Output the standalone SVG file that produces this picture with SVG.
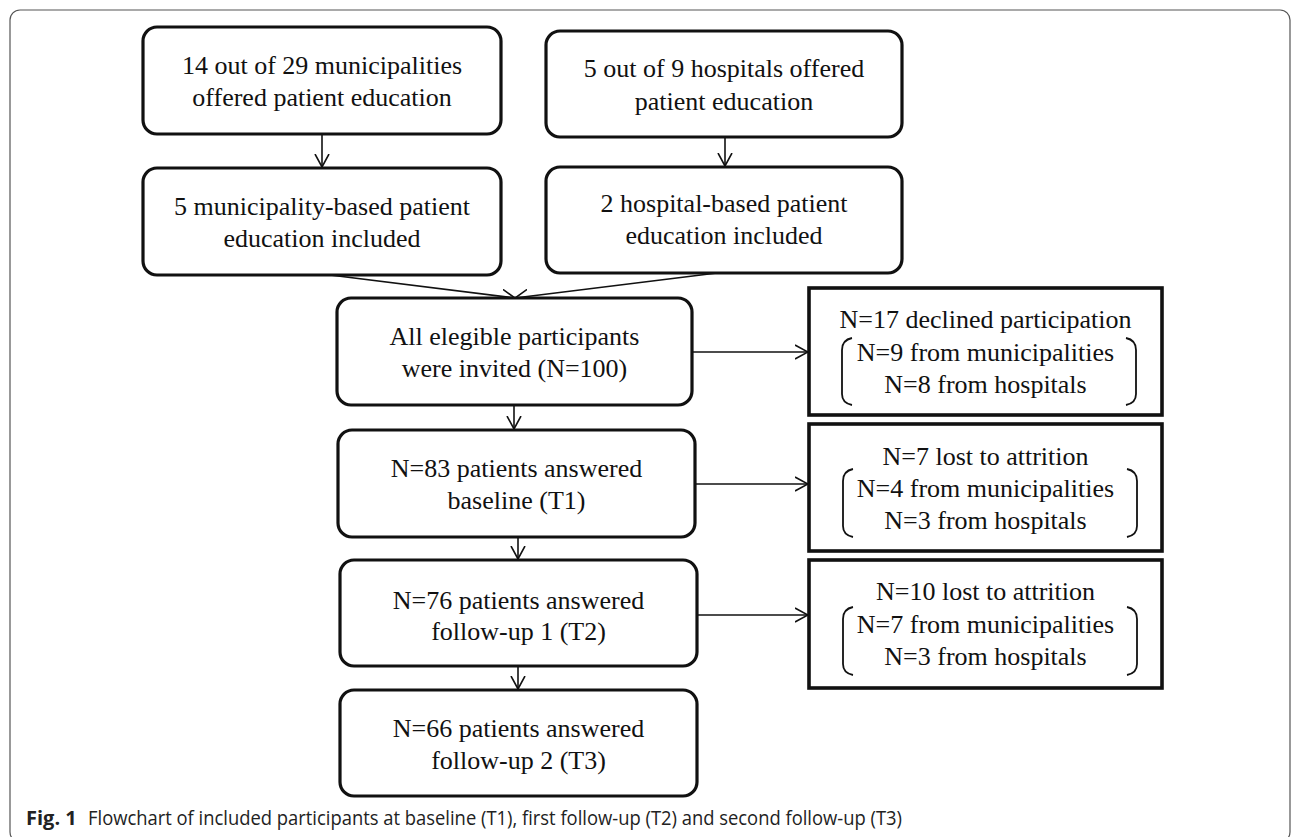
<svg xmlns="http://www.w3.org/2000/svg" width="1292" height="837" viewBox="0 0 1292 837">
  <style>
    .rbox { fill: #fff; stroke: #111; stroke-width: 3.2; }
    .sbox { fill: #fff; stroke: #111; stroke-width: 3.6; }
    .t { font-family: "Liberation Serif", "Times New Roman", serif; font-size: 26px; fill: #111; text-anchor: middle; }
    .conn { fill: none; stroke: #111; stroke-width: 1.6; marker-end: url(#arr); }
    .br { fill: none; stroke: #111; stroke-width: 1.8; }
    .cap { font-family: "Open Sans", "Liberation Sans", sans-serif; font-size: 20px; fill: #222; }
  </style>
  <defs>
    <marker id="arr" markerUnits="userSpaceOnUse" viewBox="0 0 14 16" refX="13" refY="8" markerWidth="14" markerHeight="16" orient="auto">
      <path d="M0,1 L13,8 L0,15" fill="none" stroke="#111" stroke-width="1.6"/>
    </marker>
  </defs>
  <rect x="0" y="0" width="1292" height="837" fill="#fff"/>
  <rect id="frame" x="10" y="10" width="1280" height="832" rx="10" fill="none" stroke="#555" stroke-width="1.2"/>

  <g id="connectors">
    <path class="conn" d="M322,134 L322,167"/>
    <path class="conn" d="M725,137 L725,166"/>
    <path class="conn" d="M330,275 L515,298"/>
    <path class="conn" d="M717,273 L515,298"/>
    <path class="conn" d="M692,352 L808,352"/>
    <path class="conn" d="M514,405 L514,429"/>
    <path class="conn" d="M695,484 L808,484"/>
    <path class="conn" d="M518,537 L518,559"/>
    <path class="conn" d="M697,615 L808,615"/>
    <path class="conn" d="M518,666 L518,689"/>
  </g>

  <g id="n1">
    <rect class="rbox" x="143" y="27" width="358" height="107" rx="14"/>
    <text class="t" x="322" y="74">14 out of 29 municipalities</text>
    <text class="t" x="322" y="106">offered patient education</text>
  </g>
  <g id="n2">
    <rect class="rbox" x="143" y="168" width="358" height="107" rx="14"/>
    <text class="t" x="322" y="215">5 municipality-based patient</text>
    <text class="t" x="322" y="247">education included</text>
  </g>
  <g id="n3">
    <rect class="rbox" x="546" y="31" width="356" height="106" rx="14"/>
    <text class="t" x="724" y="77">5 out of 9 hospitals offered</text>
    <text class="t" x="724" y="110">patient education</text>
  </g>
  <g id="n4">
    <rect class="rbox" x="546" y="167" width="356" height="106" rx="14"/>
    <text class="t" x="724" y="212">2 hospital-based patient</text>
    <text class="t" x="724" y="244">education included</text>
  </g>
  <g id="n5">
    <rect class="rbox" x="337" y="298" width="355" height="107" rx="14"/>
    <text class="t" x="514.5" y="345">All elegible participants</text>
    <text class="t" x="514.5" y="377">were invited (N=100)</text>
  </g>
  <g id="n6">
    <rect class="rbox" x="338" y="430" width="357" height="107" rx="14"/>
    <text class="t" x="516.5" y="477">N=83 patients answered</text>
    <text class="t" x="516.5" y="509">baseline (T1)</text>
  </g>
  <g id="n7">
    <rect class="rbox" x="340" y="560" width="357" height="106" rx="14"/>
    <text class="t" x="518.5" y="609">N=76 patients answered</text>
    <text class="t" x="518.5" y="640">follow-up 1 (T2)</text>
  </g>
  <g id="n8">
    <rect class="rbox" x="340" y="690" width="357" height="106" rx="14"/>
    <text class="t" x="518.5" y="737">N=66 patients answered</text>
    <text class="t" x="518.5" y="769">follow-up 2 (T3)</text>
  </g>

  <g id="r1">
    <rect class="sbox" x="809" y="288" width="353" height="127"/>
    <text class="t" x="985.5" y="328">N=17 declined participation</text>
    <text class="t" x="985.5" y="361">N=9 from municipalities</text>
    <text class="t" x="985.5" y="393">N=8 from hospitals</text>
    <path class="br" d="M852,338 Q842,340 842,350 L842,394 Q842,403 852,405"/>
    <path class="br" d="M1126,338 Q1136,340 1136,350 L1136,394 Q1136,403 1126,405"/>
  </g>
  <g id="r2">
    <rect class="sbox" x="809" y="424" width="353" height="127"/>
    <text class="t" x="985.5" y="465">N=7 lost to attrition</text>
    <text class="t" x="985.5" y="497">N=4 from municipalities</text>
    <text class="t" x="985.5" y="529">N=3 from hospitals</text>
    <path class="br" d="M853,469 Q843,471 843,481 L843,526 Q843,535 853,537"/>
    <path class="br" d="M1127,469 Q1137,471 1137,481 L1137,526 Q1137,535 1127,537"/>
  </g>
  <g id="r3">
    <rect class="sbox" x="809" y="560" width="353" height="128"/>
    <text class="t" x="985.5" y="600">N=10 lost to attrition</text>
    <text class="t" x="985.5" y="633">N=7 from municipalities</text>
    <text class="t" x="985.5" y="665">N=3 from hospitals</text>
    <path class="br" d="M853,607 Q843,609 843,619 L843,664 Q843,673 853,675"/>
    <path class="br" d="M1127,607 Q1137,609 1137,619 L1137,664 Q1137,673 1127,675"/>
  </g>

  <g id="caption">
    <text class="cap" x="26" y="825" font-weight="bold">Fig. 1</text>
    <text class="cap" x="88" y="825" textLength="814" lengthAdjust="spacingAndGlyphs">Flowchart of included participants at baseline (T1), first follow-up (T2) and second follow-up (T3)</text>
  </g>
</svg>
